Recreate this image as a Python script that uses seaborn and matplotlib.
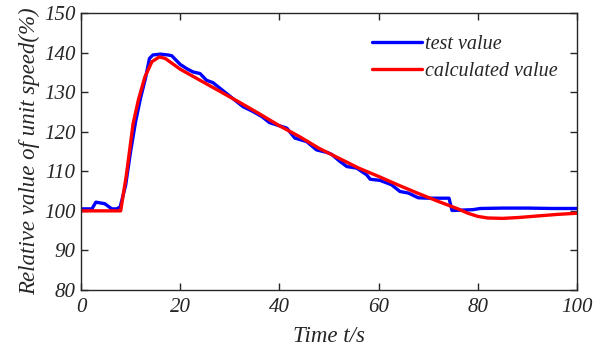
import numpy as np
import pandas as pd
import matplotlib
matplotlib.use("Agg")
import matplotlib.pyplot as plt
import seaborn as sns

# ---- data ----
test_t = [0, 2.2, 3.0, 4.8, 6.2, 7.2, 7.9, 9, 10, 11, 12, 13, 13.8, 14.5, 16, 17.5, 18.3,
          20, 21.5, 22.6, 24, 25.3, 26.6, 28, 30, 32.7, 34.7, 36.5, 38, 39.5, 41.5, 43.1,
          45.5, 47.5, 49.5, 50.5, 52.2, 53.6, 55.6, 57.6, 58.3, 60.3, 62.6, 64.3, 66, 68,
          70, 74.2, 74.8, 77, 79, 80.5, 85, 90, 95, 100]
test_v = [100.5, 100.5, 102.2, 101.8, 100.5, 100.5, 101.0, 106.5, 115, 122.5, 128.5, 133.5,
          138.5, 139.4, 139.6, 139.4, 139.2, 137, 135.8, 135.1, 134.7, 133, 132.4, 131, 129,
          126.3, 125.1, 123.8, 122.3, 121.7, 120.9, 118.4, 117.5, 115.4, 114.8, 114.3, 112.5,
          111.2, 110.8, 109.1, 108, 107.7, 106.6, 104.9, 104.5, 103.3, 103.2, 103.2, 100.1,
          100.2, 100.3, 100.6, 100.7, 100.7, 100.6, 100.6]

calc_t = [0, 8, 9.2, 10.5, 11.6, 12.9, 14.3, 15.8, 17, 20, 24, 28, 32, 36, 40, 44, 48, 52,
          56, 60, 64, 68, 72, 76, 78, 80, 82, 85, 88, 92, 96, 100]
calc_v = [100, 100, 109.5, 122, 128.2, 133.9, 137.7, 138.9, 138.5, 135.8, 133.0, 130.2,
          127.4, 124.5, 121.5, 118.8, 115.8, 113.3, 110.8, 108.7, 106.5, 104.4, 102.4,
          100.5, 99.4, 98.6, 98.2, 98.1, 98.3, 98.7, 99.1, 99.4]

series_names = ["test value", "calculated value"]
xticks = [0, 20, 40, 60, 80, 100]
yticks = [80, 90, 100, 110, 120, 130, 140, 150]

df = pd.concat([
    pd.DataFrame({"t": test_t, "v": test_v, "series": series_names[0]}),
    pd.DataFrame({"t": calc_t, "v": calc_v, "series": series_names[1]}),
], ignore_index=True)

sns.set_style("ticks")
plt.rcParams["font.family"] = ["Liberation Serif", "DejaVu Serif"]
plt.rcParams["font.style"] = "italic"

fig = plt.figure(figsize=(6.01, 3.48), dpi=100)
ax = fig.add_axes([81 / 601, 58 / 348, 496 / 601, 277 / 348])

sns.lineplot(data=df, x="t", y="v", hue="series", hue_order=series_names,
             palette=["#0000ff", "#ff0000"], linewidth=2.4, sort=False,
             estimator=None, ax=ax)

ax.set_xlim(0, 100)
ax.set_ylim(80, 150)
ax.set_xticks(xticks)
ax.set_yticks(yticks)
ax.set_xticklabels([str(v) for v in xticks])
ax.set_yticklabels([str(v) for v in yticks])
ax.tick_params(direction="in", length=5, width=1, colors="#262626",
               labelsize=15, top=True, right=True)
ax.tick_params(axis="x", pad=6)
ax.tick_params(axis="y", pad=4)
for lab in ax.get_xticklabels() + ax.get_yticklabels():
    lab.set_fontstyle("italic")
for s in ax.spines.values():
    s.set_visible(True)
    s.set_color("#262626")
    s.set_linewidth(1.0)

ax.set_xlabel("Time t/s", fontsize=16.5, fontstyle="italic", color="#262626", labelpad=6)
ax.set_ylabel("Relative value of unit speed(%)", fontsize=16.5, fontstyle="italic",
              color="#262626", labelpad=3)

handles, labels = ax.get_legend_handles_labels()
ax.legend(handles, labels, frameon=False, loc="upper left",
          bbox_to_anchor=(291 / 496, (290 - 35) / 277), borderpad=0, borderaxespad=0,
          handlelength=2.5, handletextpad=0.15, labelspacing=0.4,
          prop={"family": "Liberation Serif", "style": "italic", "size": 14.5})

fig.savefig("out.png", dpi=100)
